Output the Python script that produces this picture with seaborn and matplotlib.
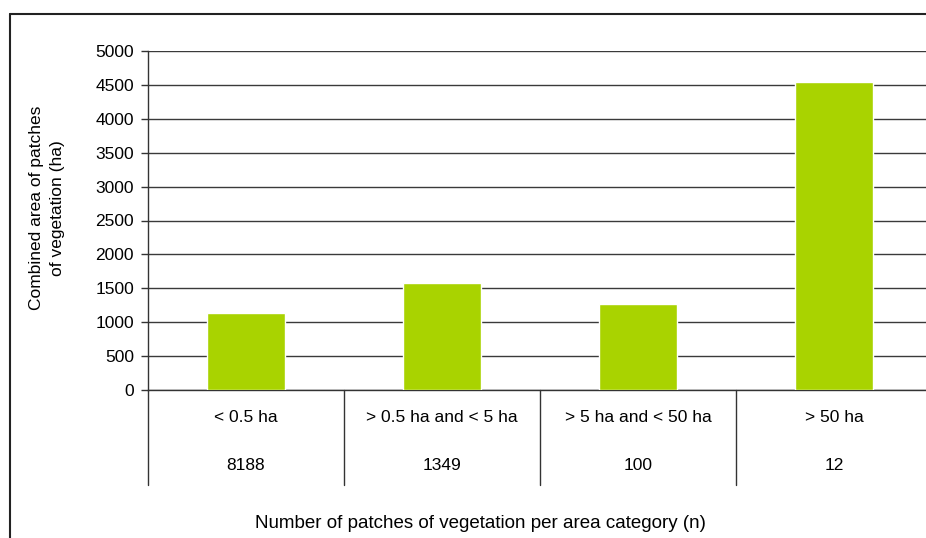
import matplotlib
matplotlib.use('Agg')
import pandas as pd
import matplotlib.pyplot as plt
import seaborn as sns
from matplotlib.lines import Line2D

categories = ["< 0.5 ha", "> 0.5 ha and < 5 ha", "> 5 ha and < 50 ha", "> 50 ha"]
patch_counts = ["8188", "1349", "100", "12"]
area_ha = [1140, 1578, 1264, 4543]
y_ticks = [0, 500, 1000, 1500, 2000, 2500, 3000, 3500, 4000, 4500, 5000]

df = pd.DataFrame({"Category": categories, "Area": area_ha})

sns.set_style("white")
plt.rcParams['font.family'] = ['Liberation Sans', 'DejaVu Sans']
plt.rcParams['text.color'] = 'black'
plt.rcParams['ytick.color'] = 'black'

W, H = 926, 538
fig = plt.figure(figsize=(W / 100, H / 100), dpi=100)
ax = fig.add_axes([148 / W, 1 - 390 / H, (932 - 148) / W, (390 - 51) / H])

sns.barplot(data=df, x="Category", y="Area", color="#A9D300", width=0.4,
            saturation=1, ax=ax, zorder=3)

ax.set_xlim(-0.5, 3.5)
ax.set_ylim(0, 5000)
ax.set_yticks(y_ticks)
ax.set_yticklabels([str(t) for t in y_ticks], fontsize=12.5)
ax.tick_params(axis='y', length=5, width=1, color='#333333', labelcolor='black', pad=5, left=True)
ax.set_xticks([])
ax.set_xlabel("")
ax.set_ylabel("")
ax.yaxis.grid(True, color='#3a3a3a', lw=1, zorder=0)
ax.set_axisbelow(True)
for s in ["top", "right"]:
    ax.spines[s].set_visible(False)
ax.spines["left"].set_color('#333333')
ax.spines["bottom"].set_color('#333333')
ax.spines["left"].set_linewidth(1)
ax.spines["bottom"].set_linewidth(1)

# multi-level category axis
trans = ax.get_xaxis_transform()
axh = (390 - 51)
for i, (cat, n) in enumerate(zip(categories, patch_counts)):
    ax.text(i, -(418 - 390) / axh, cat, transform=trans, ha='center', va='center', fontsize=12.5)
    ax.text(i, -(465 - 390) / axh, n, transform=trans, ha='center', va='center', fontsize=12.5)
for b in [-0.5, 0.5, 1.5, 2.5]:
    ax.plot([b, b], [0, -(485 - 390) / axh], transform=trans, color='#333333',
            lw=1, clip_on=False)

fig.text(47 / W, 1 - 208 / H, "Combined area of patches\nof vegetation (ha)", rotation=90,
         ha='center', va='center', multialignment='center', fontsize=12.5, linespacing=1.45)
fig.text(480 / W, 1 - 523 / H, "Number of patches of vegetation per area category (n)",
         ha='center', va='center', fontsize=13.5)

# outer chart frame
fig.add_artist(Line2D([9.5 / W, 9.5 / W], [0, 1 - 14 / H], color='#222222', lw=1.5))
fig.add_artist(Line2D([9.5 / W, 1], [1 - 14 / H, 1 - 14 / H], color='#222222', lw=1.5))

fig.savefig("out.png", dpi=100)
